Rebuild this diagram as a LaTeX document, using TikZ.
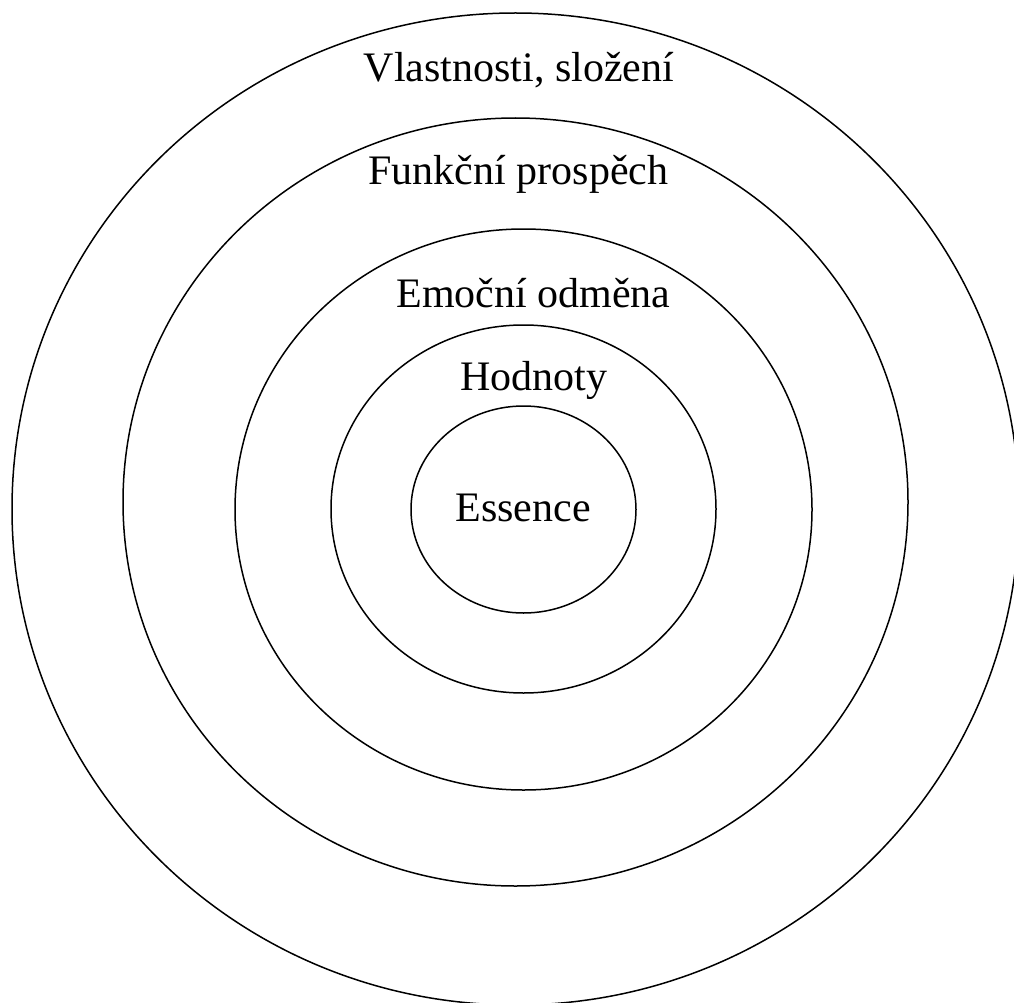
\documentclass[tikz,border=0pt]{standalone}
\usepackage{fontspec}
\setmainfont{Liberation Serif}
\usetikzlibrary{shapes.geometric}

\begin{document}
\begin{tikzpicture}[
    x=1pt, y=-1pt,
    ring/.style={ellipse, draw=black, line width=1.5pt, inner sep=0pt},
    lbl/.style={anchor=base, inner sep=0pt, font=\fontsize{42}{48}\selectfont}
  ]

  %% frame of the picture (outer ring is cut at right and bottom)
  \clip (0,0) rectangle (1014,1003);

  %% rings, outside in
  \node[ring, minimum width=1007pt, minimum height=992pt] (vlast) at (515.5,509) {};
  \node[ring, minimum width=785pt, minimum height=768pt] (funkc) at (515.5,502) {};
  \node[ring, minimum width=577pt, minimum height=561pt] (emoc) at (523.5,509.5) {};
  \node[ring, minimum width=385pt, minimum height=368pt] (hodn) at (523.5,509) {};
  \node[ring, minimum width=225pt, minimum height=207pt] (ess) at (523.5,509.5) {};

  %% labels
  \node[lbl] (vlastlbl) at (519,82) {Vlastnosti, složení};
  \node[lbl] (funkclbl) at (518.5,185) {Funkční prospěch};
  \node[lbl] (emoclbl) at (533.5,307) {Emoční odměna};
  \node[lbl] (hodnlbl) at (534,390) {Hodnoty};
  \node[lbl] (esslbl) at (523,521) {Essence};

\end{tikzpicture}
\end{document}
